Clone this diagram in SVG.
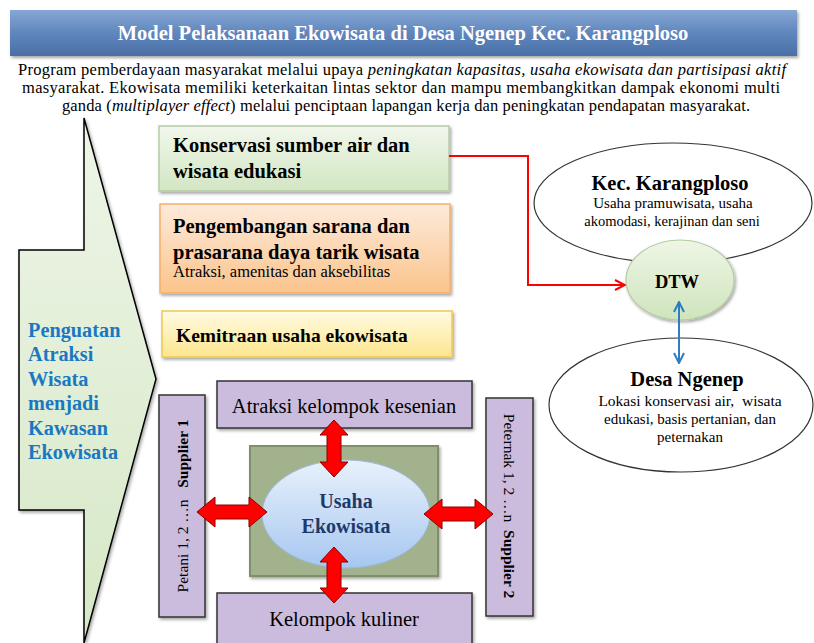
<svg xmlns="http://www.w3.org/2000/svg" width="814" height="643" viewBox="0 0 814 643">
<defs>
<linearGradient id="gTitle" x1="0" y1="0" x2="0" y2="1"><stop offset="0" stop-color="#87a7d4"/><stop offset="0.5" stop-color="#5f86bd"/><stop offset="1" stop-color="#4a70a6"/></linearGradient>
<linearGradient id="gArrow" x1="0" y1="0" x2="0" y2="1"><stop offset="0" stop-color="#eef5e8"/><stop offset="1" stop-color="#d6e8c6"/></linearGradient>
<linearGradient id="gGreen" x1="0" y1="0" x2="0" y2="1"><stop offset="0" stop-color="#f1f7ec"/><stop offset="1" stop-color="#d3e6c3"/></linearGradient>
<linearGradient id="gOrange" x1="0" y1="0" x2="0" y2="1"><stop offset="0" stop-color="#fdeadb"/><stop offset="1" stop-color="#fbc48c"/></linearGradient>
<linearGradient id="gYellow" x1="0" y1="0" x2="0" y2="1"><stop offset="0" stop-color="#fffbe3"/><stop offset="1" stop-color="#fde68e"/></linearGradient>
<linearGradient id="gBlue" x1="0" y1="0" x2="0" y2="1"><stop offset="0" stop-color="#e8f1fc"/><stop offset="1" stop-color="#a7c7f0"/></linearGradient>
<linearGradient id="gDtw" x1="0" y1="0" x2="0" y2="1"><stop offset="0" stop-color="#eef6e6"/><stop offset="1" stop-color="#cfe4bc"/></linearGradient>
<filter id="sh" x="-10%" y="-10%" width="130%" height="130%"><feDropShadow dx="1.5" dy="2" stdDeviation="1.5" flood-color="#000" flood-opacity="0.35"/></filter>
<marker id="mRed" viewBox="0 0 12 12" refX="11" refY="6" markerWidth="12" markerHeight="12" markerUnits="userSpaceOnUse" orient="auto"><path d="M1,1 L11,6 L1,11" fill="none" stroke="#ff0000" stroke-width="2"/></marker>
<marker id="mBlue" viewBox="0 0 12 12" refX="11" refY="6" markerWidth="12" markerHeight="12" markerUnits="userSpaceOnUse" orient="auto-start-reverse"><path d="M1,1 L11,6 L1,11" fill="none" stroke="#2e7dc2" stroke-width="2"/></marker>
</defs>
<style>
text{font-family:"Liberation Serif","Times New Roman","DejaVu Serif",serif}
.b{font-weight:bold}
.boxlbl{font-weight:bold;font-size:20.5px;fill:#000}
.purple{fill:#cbbcdd;stroke:#333;stroke-width:1.5}
.red{fill:#ff0000;stroke:#8b0000;stroke-width:1}
</style>
<rect width="814" height="643" fill="#fff"/>

<g id="title">
<rect x="10" y="10" width="787" height="46" fill="url(#gTitle)" filter="url(#sh)"/>
<text x="403" y="40" text-anchor="middle" class="b" font-size="20.5" fill="#fff">Model Pelaksanaan Ekowisata di Desa Ngenep Kec. Karangploso</text>
</g>

<g id="intro" font-size="16.5" fill="#000">
<text x="402" y="75" text-anchor="middle" textLength="768">Program pemberdayaan masyarakat melalui upaya <tspan font-style="italic">peningkatan kapasitas, usaha ekowisata dan partisipasi aktif</tspan></text>
<text x="401" y="93" text-anchor="middle" textLength="758">masyarakat. Ekowisata memiliki keterkaitan lintas sektor dan mampu membangkitkan dampak ekonomi multi</text>
<text x="406" y="111" text-anchor="middle" textLength="688">ganda (<tspan font-style="italic">multiplayer effect</tspan>) melalui penciptaan lapangan kerja dan peningkatan pendapatan masyarakat.</text>
</g>

<g id="penguatan">
<polygon points="84,118 156,379 84,643 84,510 19,510 19,250 84,250" fill="url(#gArrow)" stroke="#000" stroke-width="1.5" filter="url(#sh)"/>
<g class="b" font-size="20.3" fill="#1a78c2">
<text x="28" y="337">Penguatan</text>
<text x="28" y="361">Atraksi</text>
<text x="28" y="386">Wisata</text>
<text x="28" y="410">menjadi</text>
<text x="28" y="435">Kawasan</text>
<text x="28" y="459">Ekowisata</text>
</g>
</g>

<g id="konservasi">
<rect x="159" y="126" width="290" height="65" fill="url(#gGreen)" stroke="#b7cda6" stroke-width="1.5" filter="url(#sh)"/>
<text x="173" y="152" class="boxlbl">Konservasi sumber air dan</text>
<text x="173" y="178" class="boxlbl">wisata edukasi</text>
</g>

<g id="pengembangan">
<rect x="160" y="204" width="290" height="89" fill="url(#gOrange)" stroke="#f5b06a" stroke-width="1.5" filter="url(#sh)"/>
<text x="173" y="233" class="boxlbl">Pengembangan sarana dan</text>
<text x="173" y="259" class="boxlbl">prasarana daya tarik wisata</text>
<text x="173" y="277" font-size="16.5">Atraksi, amenitas dan aksebilitas</text>
</g>

<g id="kemitraan">
<rect x="162" y="311" width="290" height="46" fill="url(#gYellow)" stroke="#f0c850" stroke-width="1.5" filter="url(#sh)"/>
<text x="176" y="342" class="boxlbl" font-size="19.5" style="font-size:19.5px">Kemitraan usaha ekowisata</text>
</g>

<g id="usaha-area">
<rect x="250" y="446" width="188" height="130" fill="#a2b28c" stroke="#7f8f6a" stroke-width="2" filter="url(#sh)"/>
</g>

<g id="atraksi">
<rect x="217" y="381" width="255" height="47" class="purple" filter="url(#sh)"/>
<text x="344" y="413" text-anchor="middle" font-size="20.5">Atraksi kelompok kesenian</text>
</g>

<g id="kuliner">
<rect x="217" y="593" width="255" height="55" class="purple" filter="url(#sh)"/>
<text x="344" y="626" text-anchor="middle" font-size="20.5">Kelompok kuliner</text>
</g>

<g id="supplier1">
<rect x="159" y="395" width="46" height="222" class="purple" filter="url(#sh)"/>
<text transform="translate(188,506) rotate(-90)" text-anchor="middle" font-size="15.5" xml:space="preserve">Petani 1, 2 …n   <tspan font-weight="bold">Supplier 1</tspan></text>
</g>

<g id="supplier2">
<rect x="486" y="398" width="47" height="218" class="purple" filter="url(#sh)"/>
<text transform="translate(504,506) rotate(90)" text-anchor="middle" font-size="15.5" xml:space="preserve">Peternak 1, 2 …n  <tspan font-weight="bold">Supplier 2</tspan></text>
</g>

<g id="usaha-ekowisata">
<ellipse cx="346" cy="514" rx="84" ry="54" fill="url(#gBlue)" stroke="#9bb8de" stroke-width="1"/>
<text x="346" y="508" text-anchor="middle" class="b" font-size="20" fill="#1f3a6a">Usaha</text>
<text x="346" y="533" text-anchor="middle" class="b" font-size="20" fill="#1f3a6a">Ekowisata</text>
</g>

<g id="kec-karangploso">
<ellipse cx="673" cy="203" rx="139" ry="60" fill="#fff" stroke="#333" stroke-width="1.2"/>
<text x="670" y="190" text-anchor="middle" class="b" font-size="20.5">Kec. Karangploso</text>
<text x="673" y="208" text-anchor="middle" font-size="15">Usaha pramuwisata, usaha</text>
<text x="672" y="226" text-anchor="middle" font-size="14.5">akomodasi, kerajinan dan seni</text>
</g>

<g id="desa-ngenep">
<ellipse cx="681" cy="405" rx="132" ry="67" fill="#fff" stroke="#333" stroke-width="1.2"/>
<text x="687" y="386" text-anchor="middle" class="b" font-size="20.5">Desa Ngenep</text>
<text x="690" y="406" text-anchor="middle" font-size="15.5" xml:space="preserve">Lokasi konservasi air,  wisata</text>
<text x="690" y="424" text-anchor="middle" font-size="15">edukasi, basis pertanian, dan</text>
<text x="690" y="442" text-anchor="middle" font-size="15">peternakan</text>
</g>

<g id="dtw">
<ellipse cx="680" cy="280" rx="54" ry="40" fill="url(#gDtw)" stroke="#b5cba3" stroke-width="1.2" filter="url(#sh)"/>
<text x="677" y="288" text-anchor="middle" class="b" font-size="18.5">DTW</text>
</g>

<g id="connectors">
<polyline points="449,156 528,156 528,285 625,285" fill="none" stroke="#ff0000" stroke-width="2" marker-end="url(#mRed)"/>
<line x1="679" y1="302" x2="679" y2="363" stroke="#2e7dc2" stroke-width="2" marker-start="url(#mBlue)" marker-end="url(#mBlue)"/>
<path class="red" d="M334,420 L348,435 L341,435 L341,462 L348,462 L334,477 L320,462 L327,462 L327,435 L320,435 Z"/>
<path class="red" d="M334,547 L348,562 L341,562 L341,588 L348,588 L334,603 L320,588 L327,588 L327,562 L320,562 Z"/>
<path class="red" d="M197,512 L215,497 L215,505 L249,505 L249,497 L267,512 L249,527 L249,519 L215,519 L215,527 Z"/>
<path class="red" d="M424,514 L442,499 L442,507 L475,507 L475,499 L493,514 L475,529 L475,521 L442,521 L442,529 Z"/>
</g>
</svg>
